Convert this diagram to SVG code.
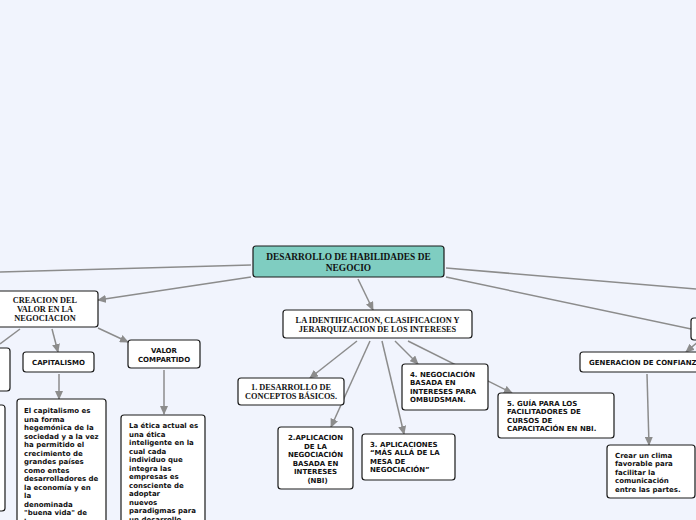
<svg xmlns="http://www.w3.org/2000/svg" width="696" height="520" viewBox="0 0 696 520">
<style>
.bg{fill:#f1f4fd}
.box{fill:#ffffff;stroke:#1a1a1a;stroke-width:1.2}
.main{fill:#7fcdc1;stroke:#1a1a1a;stroke-width:1.2}
.serif{font-family:"Liberation Serif","DejaVu Serif",serif;font-weight:bold;font-size:8.3px;fill:#111}
.big{font-size:9.4px}
.sans{font-family:"DejaVu Sans","Verdana",sans-serif;font-weight:bold;font-size:7px;fill:#111}
.c{text-anchor:middle}
.con line{stroke:#8c8c8c;stroke-width:1.5;fill:none}
</style>
<defs>
<marker id="ah" markerWidth="9" markerHeight="8" refX="8" refY="4" orient="auto" markerUnits="userSpaceOnUse">
<path d="M0,0 L9,4 L0,8 z" fill="#8c8c8c"/>
</marker>
</defs>
<rect class="bg" x="0" y="0" width="696" height="520"/>
<g id="connectors" class="con">
<line x1="251" y1="265" x2="0" y2="272"/>
<line x1="251" y1="277" x2="98" y2="300" marker-end="url(#ah)"/>
<line x1="358" y1="279" x2="373" y2="310" marker-end="url(#ah)"/>
<line x1="446" y1="268" x2="696" y2="289"/>
<line x1="446" y1="277" x2="696" y2="330"/>
<line x1="20" y1="329" x2="0" y2="344"/>
<line x1="52" y1="329" x2="58" y2="352" marker-end="url(#ah)"/>
<line x1="98" y1="328" x2="128" y2="342" marker-end="url(#ah)"/>
<line x1="59" y1="374" x2="59" y2="399" marker-end="url(#ah)"/>
<line x1="164" y1="370" x2="164" y2="414" marker-end="url(#ah)"/>
<line x1="357" y1="341" x2="310" y2="378" marker-end="url(#ah)"/>
<line x1="370" y1="341" x2="331" y2="427" marker-end="url(#ah)"/>
<line x1="382" y1="341" x2="404" y2="434" marker-end="url(#ah)"/>
<line x1="395" y1="341" x2="418" y2="364" marker-end="url(#ah)"/>
<line x1="408" y1="341" x2="512" y2="393" marker-end="url(#ah)"/>
<line x1="700" y1="340" x2="686" y2="352" marker-end="url(#ah)"/>
<line x1="647" y1="374" x2="649" y2="445" marker-end="url(#ah)"/>
</g>
<g id="main">
<rect class="main" x="253" y="246" width="191" height="31" rx="3"/>
<text class="serif big c" x="348.5" y="260">DESARROLLO DE HABILIDADES DE</text>
<text class="serif big c" x="348.5" y="270.5">NEGOCIO</text>
</g>
<g id="creacion">
<rect class="box" x="-10" y="291" width="108" height="36" rx="3"/>
<text class="serif c" x="45" y="303">CREACION DEL</text>
<text class="serif c" x="45" y="312">VALOR EN LA</text>
<text class="serif c" x="45" y="321">NEGOCIACION</text>
</g>
<g id="left1">
<rect class="box" x="-20" y="348" width="30" height="43" rx="3"/>
</g>
<g id="left2">
<rect class="box" x="-20" y="405" width="25" height="106" rx="3"/>
</g>
<g id="capitalismo">
<rect class="box" x="23" y="352" width="71" height="20" rx="3"/>
<text class="sans c" x="58.5" y="365">CAPITALISMO</text>
</g>
<g id="valor">
<rect class="box" x="128" y="340" width="72" height="28" rx="3"/>
<text class="sans c" x="164" y="353">VALOR</text>
<text class="sans c" x="164" y="362">COMPARTIDO</text>
</g>
<g id="capitalismo-text">
<rect class="box" x="17" y="399" width="89" height="130" rx="3"/>
<text class="sans" x="24" y="413">El capitalismo es</text>
<text class="sans" x="24" y="421.5">una forma</text>
<text class="sans" x="24" y="430">hegemónica de la</text>
<text class="sans" x="24" y="438.5">sociedad y a la vez</text>
<text class="sans" x="24" y="447">ha permitido el</text>
<text class="sans" x="24" y="455.5">crecimiento de</text>
<text class="sans" x="24" y="464">grandes países</text>
<text class="sans" x="24" y="472.5">como entes</text>
<text class="sans" x="24" y="481">desarrolladores de</text>
<text class="sans" x="24" y="489.5">la economía y en</text>
<text class="sans" x="24" y="498">la</text>
<text class="sans" x="24" y="506.5">denominada</text>
<text class="sans" x="24" y="515">"buena vida" de</text>
<text class="sans" x="24" y="523.5">los seres</text>
</g>
<g id="valor-text">
<rect class="box" x="121" y="415" width="84" height="120" rx="3"/>
<text class="sans" x="129" y="428">La ética actual es</text>
<text class="sans" x="129" y="436.5">una ética</text>
<text class="sans" x="129" y="445">inteligente en la</text>
<text class="sans" x="129" y="453.5">cual cada</text>
<text class="sans" x="129" y="462">individuo que</text>
<text class="sans" x="129" y="470.5">integra las</text>
<text class="sans" x="129" y="479">empresas es</text>
<text class="sans" x="129" y="487.5">consciente de</text>
<text class="sans" x="129" y="496">adoptar</text>
<text class="sans" x="129" y="504.5">nuevos</text>
<text class="sans" x="129" y="513">paradigmas para</text>
<text class="sans" x="129" y="521.5">un desarrollo</text>
</g>
<g id="identificacion">
<rect class="box" x="283" y="310" width="189" height="28" rx="3"/>
<text class="serif c" x="377.5" y="323">LA IDENTIFICACION, CLASIFICACION Y</text>
<text class="serif c" x="377.5" y="332">JERARQUIZACION DE LOS INTERESES</text>
</g>
<g id="n1">
<rect class="box" x="238" y="378" width="106" height="27" rx="3"/>
<text class="serif c" x="291" y="389.5">1. DESARROLLO DE</text>
<text class="serif c" x="291" y="398.5">CONCEPTOS BÁSICOS.</text>
</g>
<g id="n2">
<rect class="box" x="278" y="427" width="75" height="62" rx="3"/>
<text class="sans c" x="315.5" y="440">2.APLICACION</text>
<text class="sans c" x="315.5" y="448.5">DE LA</text>
<text class="sans c" x="315.5" y="457">NEGOCIACIÓN</text>
<text class="sans c" x="315.5" y="465.5">BASADA EN</text>
<text class="sans c" x="315.5" y="474">INTERESES</text>
<text class="sans c" x="317.5" y="482.5">(NBI)</text>
</g>
<g id="n3">
<rect class="box" x="362" y="434" width="93" height="46" rx="3"/>
<text class="sans" x="370" y="446.5">3. APLICACIONES</text>
<text class="sans" x="370" y="455">“MÁS ALLÁ DE LA</text>
<text class="sans" x="370" y="463.5">MESA DE</text>
<text class="sans" x="370" y="472">NEGOCIACIÓN”</text>
</g>
<g id="n4">
<rect class="box" x="402" y="364" width="86" height="46" rx="3"/>
<text class="sans" x="410" y="376.5">4. NEGOCIACIÓN</text>
<text class="sans" x="410" y="385">BASADA EN</text>
<text class="sans" x="410" y="393.5">INTERESES PARA</text>
<text class="sans" x="410" y="402">OMBUDSMAN.</text>
</g>
<g id="n5">
<rect class="box" x="498" y="393" width="116" height="45" rx="3"/>
<text class="sans" x="507" y="405.5">5. GUÍA PARA LOS</text>
<text class="sans" x="507" y="414">FACILITADORES DE</text>
<text class="sans" x="507" y="422.5">CURSOS DE</text>
<text class="sans" x="507" y="431">CAPACITACIÓN EN NBI.</text>
</g>
<g id="right-node">
<rect class="box" x="691" y="318" width="30" height="22" rx="3"/>
</g>
<g id="confianza">
<rect class="box" x="580" y="352" width="140" height="20" rx="3"/>
<text class="sans" x="589" y="365">GENERACION DE CONFIANZA</text>
</g>
<g id="confianza-text">
<rect class="box" x="607" y="445" width="88" height="53" rx="3"/>
<text class="sans" x="615" y="457.5">Crear un clima</text>
<text class="sans" x="615" y="466">favorable para</text>
<text class="sans" x="615" y="474.5">facilitar la</text>
<text class="sans" x="615" y="483">comunicación</text>
<text class="sans" x="615" y="491.5">entre las partes.</text>
</g>
</svg>
